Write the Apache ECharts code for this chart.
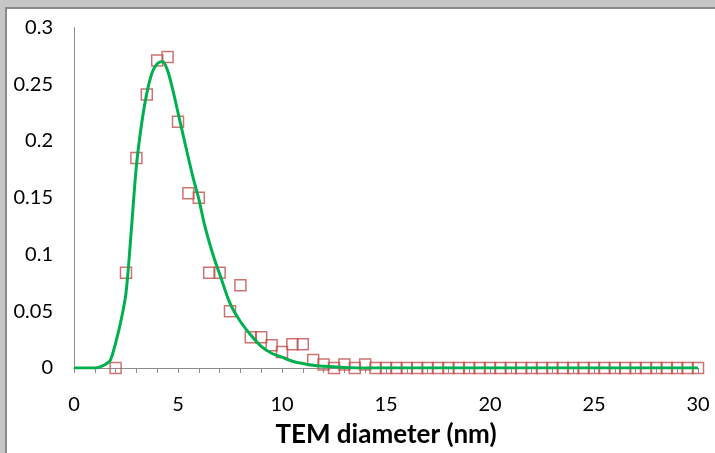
<!DOCTYPE html>
<html>
<head>
<meta charset="utf-8">
<script src="https://cdn.jsdelivr.net/npm/echarts@6/dist/echarts.min.js"></script>
<style>
  html, body { margin: 0; padding: 0; width: 715px; height: 453px; overflow: hidden;
    background: #c6c6c6; }
  #edge { position: absolute; left: 5px; top: 7px; width: 710px; height: 446px; background: #8a8a8a; }
  #chart { position: absolute; left: 7px; top: 9px; width: 708px; height: 444px; background: #ffffff; }
</style>
</head>
<body>
<div id="edge"></div>
<div id="chart"></div>
<script>
// Measured histogram (squares)
const pointX = [2, 2.5, 3, 3.5, 4, 4.5, 5, 5.5, 6, 6.5, 7, 7.5, 8, 8.5, 9, 9.5, 10, 10.5, 11, 11.5, 12, 12.5, 13, 13.5, 14,
  14.5, 15, 15.5, 16, 16.5, 17, 17.5, 18, 18.5, 19, 19.5, 20, 20.5, 21, 21.5, 22, 22.5, 23, 23.5, 24, 24.5, 25,
  25.5, 26, 26.5, 27, 27.5, 28, 28.5, 29, 29.5, 30];
const pointY = [0, 0.084, 0.185, 0.241, 0.271, 0.274, 0.217, 0.154, 0.150, 0.084, 0.084, 0.050, 0.073, 0.027, 0.027,
  0.020, 0.014, 0.021, 0.021, 0.007, 0.003, 0, 0.003, 0, 0.003,
  0, 0, 0, 0, 0, 0, 0, 0, 0, 0, 0, 0, 0, 0, 0, 0, 0, 0, 0, 0, 0, 0, 0, 0, 0, 0, 0, 0, 0, 0, 0, 0];
// Fitted distribution (green curve)
const fitX = [0, 0.5, 1, 1.25, 1.5, 1.75, 2, 2.25, 2.5, 2.75, 3, 3.25, 3.5, 3.75, 4, 4.25, 4.5, 4.75, 5, 5.25, 5.5,
  5.75, 6, 6.25, 6.5, 6.75, 7, 7.5, 8, 8.5, 9, 9.5, 10, 10.5, 11, 11.5, 12, 13, 14, 15, 20, 25, 30];
const fitY = [0, 0, 0, 0.001, 0.003, 0.007, 0.022, 0.041, 0.066, 0.120, 0.178, 0.215, 0.242, 0.260, 0.268, 0.270,
  0.262, 0.245, 0.225, 0.205, 0.185, 0.166, 0.149, 0.128, 0.111, 0.096, 0.083, 0.057, 0.041, 0.029, 0.019, 0.013,
  0.0095, 0.006, 0.004, 0.0025, 0.0015, 0.0005, 0, 0, 0, 0, 0];
const xTicks = [0, 5, 10, 15, 20, 25, 30];
const yTicks = [0, 0.05, 0.1, 0.15, 0.2, 0.25, 0.3];
const xTitle = 'TEM diameter (nm)';

const font = 'Lato, "Open Sans", sans-serif';
const chart = echarts.init(document.getElementById('chart'), null, { renderer: 'canvas' });
chart.setOption({
  animation: false,
  backgroundColor: '#ffffff',
  grid: { left: 67, right: 17, top: 18.5, bottom: 83.5, containLabel: false },
  xAxis: {
    type: 'value', min: xTicks[0], max: xTicks[xTicks.length - 1], interval: 5,
    name: xTitle, nameLocation: 'middle', nameGap: 54,
    nameTextStyle: { fontFamily: font, fontWeight: 'bold', fontSize: 26, color: '#000' },
    axisLine: { show: true, onZero: false, lineStyle: { color: '#8c8c8c', width: 1 } },
    axisTick: { show: true, length: 5, lineStyle: { color: '#8c8c8c' } },
    minorTick: { show: true, splitNumber: 5, length: 5, lineStyle: { color: '#8c8c8c' } },
    splitLine: { show: false },
    axisLabel: { fontFamily: font, fontSize: 20, color: '#000', margin: 27 }
  },
  yAxis: {
    type: 'value', min: yTicks[0], max: yTicks[yTicks.length - 1], interval: 0.05,
    axisLine: { show: true, lineStyle: { color: '#8c8c8c', width: 1 } },
    axisTick: { show: false },
    splitLine: { show: false },
    axisLabel: { fontFamily: font, fontSize: 20, color: '#000', margin: 21 }
  },
  series: [
    {
      type: 'scatter',
      data: pointX.map((x, i) => [x, pointY[i]]),
      symbol: 'rect', symbolSize: 11,
      itemStyle: { color: 'rgba(0,0,0,0)', borderColor: '#c0504d', borderWidth: 1.5 },
      z: 2
    },
    {
      type: 'line',
      data: fitX.map((x, i) => [x, fitY[i]]),
      smooth: 0.3, showSymbol: false, symbol: 'none',
      lineStyle: { color: '#00b050', width: 3 },
      z: 3
    }
  ]
});
</script>
</body>
</html>
